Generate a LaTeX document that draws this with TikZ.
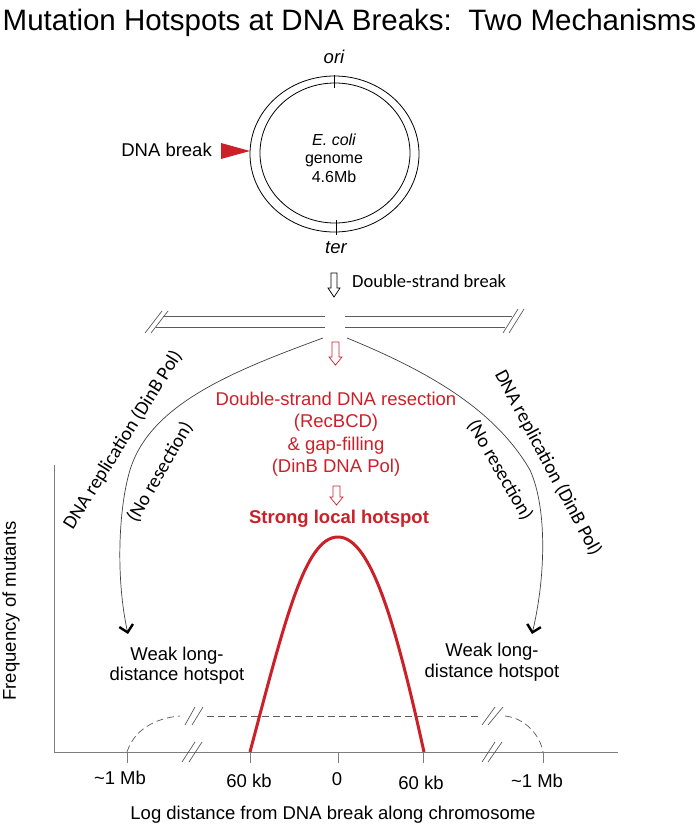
\documentclass[tikz,border=0pt]{standalone}
\usepackage{fontspec}
\setmainfont{Liberation Sans}
\newfontfamily\calib{Carlito}
\usetikzlibrary{arrows.meta}
\definecolor{dred}{RGB}{204,32,40}
\definecolor{axgray}{RGB}{125,125,125}
\definecolor{dnagray}{RGB}{90,90,90}
\begin{document}
\begin{tikzpicture}[x=1pt,y=-1pt,
  font=\fontsize{18.5}{22}\selectfont,
  lbl/.style={anchor=base, inner sep=0pt},
  small/.style={font=\fontsize{16}{19}\selectfont},
  cal/.style={font=\calib\fontsize{19.5}{22}\selectfont, inner sep=0pt},
  redtxt/.style={lbl, text=dred},
  axis/.style={axgray, line width=0.9pt},
  slash/.style={dnagray, line width=0.7pt},
  dsh/.style={dnagray, line width=0.7pt, dash pattern=on 7pt off 4pt},
  path/.style={black!75, line width=0.7pt, -{Straight Barb[length=7pt,width=14pt,line width=2.4pt,color=black]}},
  hollow/.style={line width=0.7pt, fill=white}
]
\useasboundingbox (0,0) rectangle (699,825);

% title
\node[lbl, font=\fontsize{29.5}{34}\selectfont] (title) at (349.5,30) {Mutation Hotspots at DNA Breaks:\ \ Two Mechanisms};

% genome circle
\draw[line width=0.8pt] (334.5,154) ellipse [x radius=84.5, y radius=78];
\draw[line width=0.8pt] (335,153) ellipse [x radius=75, y radius=70];
\draw[line width=0.8pt] (334,75) -- (334,88);
\draw[line width=0.8pt] (336,220) -- (336,235);
\node[lbl, font=\itshape\fontsize{18.5}{22}\selectfont] (ori) at (334,63) {ori};
\node[lbl, font=\itshape\fontsize{18.5}{22}\selectfont] (ter) at (336,253) {ter};
\node[lbl, small, font=\itshape\fontsize{16}{19}\selectfont] (ecoli) at (334,145) {E. coli};
\node[lbl, small] (genome) at (334,163) {genome};
\node[lbl, small] (size) at (334,182) {4.6Mb};

% DNA break marker
\fill[dred] (221,143) -- (250,151) -- (221,159) -- cycle;
\node[lbl, anchor=base east] (dnabreak) at (212,156) {DNA break};

% double-strand break arrow
\draw[hollow] (331,273) -- (337,273) -- (337,288) -- (340,288) -- (334,297) -- (328,288) -- (331,288) -- cycle;
\node[lbl, anchor=base west, font=\calib\fontsize{18.5}{22}\selectfont] (dsb) at (352,287) {Double-strand break};

% broken chromosome
\draw[dnagray, line width=0.8pt] (163,316) -- (325,316);
\draw[dnagray, line width=0.8pt] (156,327) -- (325,327);
\draw[dnagray, line width=0.8pt] (345,316) -- (512,316);
\draw[dnagray, line width=0.8pt] (345,327) -- (505,327);
\draw[slash] (145,333) -- (162,311);
\draw[slash] (151,333) -- (168,311);
\draw[slash] (503,333) -- (518,309);
\draw[slash] (509,333) -- (524,309);

% pathways
\coordinate (gapL) at (323,338);
\coordinate (gapR) at (347,338);
\coordinate (endL) at (128,634);
\coordinate (endR) at (532,634);
\draw[path] (gapL) .. controls (230,372) and (150,405) .. (130,470) .. controls (118,510) and (116,580) .. (endL);
\draw[path] (gapR) .. controls (430,372) and (495,410) .. (530,470) .. controls (548,510) and (545,580) .. (endR);

\node[cal, rotate=58] (replL) at (123,440) {DNA replication (DinB Pol)};
\node[cal, rotate=60] (noresL) at (160,472) {(No resection)};
\node[cal, rotate=-62] (replR) at (548,463) {DNA replication (DinB Pol)};
\node[cal, rotate=-60] (noresR) at (500,470) {(No resection)};

% red pathway
\draw[hollow, draw=dred] (332,342) -- (339,342) -- (339,357) -- (342,357) -- (335.5,365) -- (329,357) -- (332,357) -- cycle;
\node[redtxt] (res1) at (336,405) {Double-strand DNA resection};
\node[redtxt] (res2) at (336,427.5) {(RecBCD)};
\node[redtxt] (res3) at (336,450) {\& gap-filling};
\node[redtxt] (res4) at (336,472.5) {(DinB DNA Pol)};
\draw[hollow, draw=dred] (333,486) -- (340,486) -- (340,497) -- (343,497) -- (336.5,505) -- (330,497) -- (333,497) -- cycle;
\node[redtxt, font=\bfseries\fontsize{18.5}{22}\selectfont] (strong) at (339,523) {Strong local hotspot};

% weak hotspot labels
\node[lbl] (weakL1) at (177,660) {Weak long-};
\node[lbl] (weakL2) at (177,680) {distance hotspot};
\node[lbl] (weakR1) at (492,656) {Weak long-};
\node[lbl] (weakR2) at (492,677) {distance hotspot};

% axes
\draw[axis] (54,465) -- (54,752);
\draw[axis] (54,752) -- (618,752);
\foreach \x in {127,250,338,423,543} \draw[axis] (\x,752) -- (\x,763);
\draw[slash] (182,762) -- (195,742);
\draw[slash] (189,762) -- (202,742);
\draw[slash] (482,762) -- (495,742);
\draw[slash] (488,762) -- (502,742);

% long-distance (dashed) profile
\draw[dsh] (207,716) -- (480,716);
\draw[slash] (185,725) -- (195,707);
\draw[slash] (192,725) -- (203,707);
\draw[slash] (482,725) -- (495,707);
\draw[slash] (488,725) -- (503,707);
\draw[dsh] (127,752) .. controls (134,730) and (155,718) .. (180,716);
\draw[dsh] (505,716) .. controls (525,718) and (540,735) .. (543,752);

% red local profile
\draw[dred, line width=3pt] (250,752) .. controls (285,620) and (305,537) .. (338,537) .. controls (371,537) and (396,625) .. (424,752);

% axis labels
\node[lbl, rotate=90] (yl) at (16,611) {Frequency of mutants};
\node[lbl] (t1) at (120,784) {\textasciitilde 1 Mb};
\node[lbl] (t2) at (249,787) {60 kb};
\node[lbl] (t3) at (337,785) {0};
\node[lbl] (t4) at (421,789) {60 kb};
\node[lbl] (t5) at (537,787) {\textasciitilde 1 Mb};
\node[lbl] (xl) at (333,819) {Log distance from DNA break along chromosome};
\end{tikzpicture}
\end{document}
